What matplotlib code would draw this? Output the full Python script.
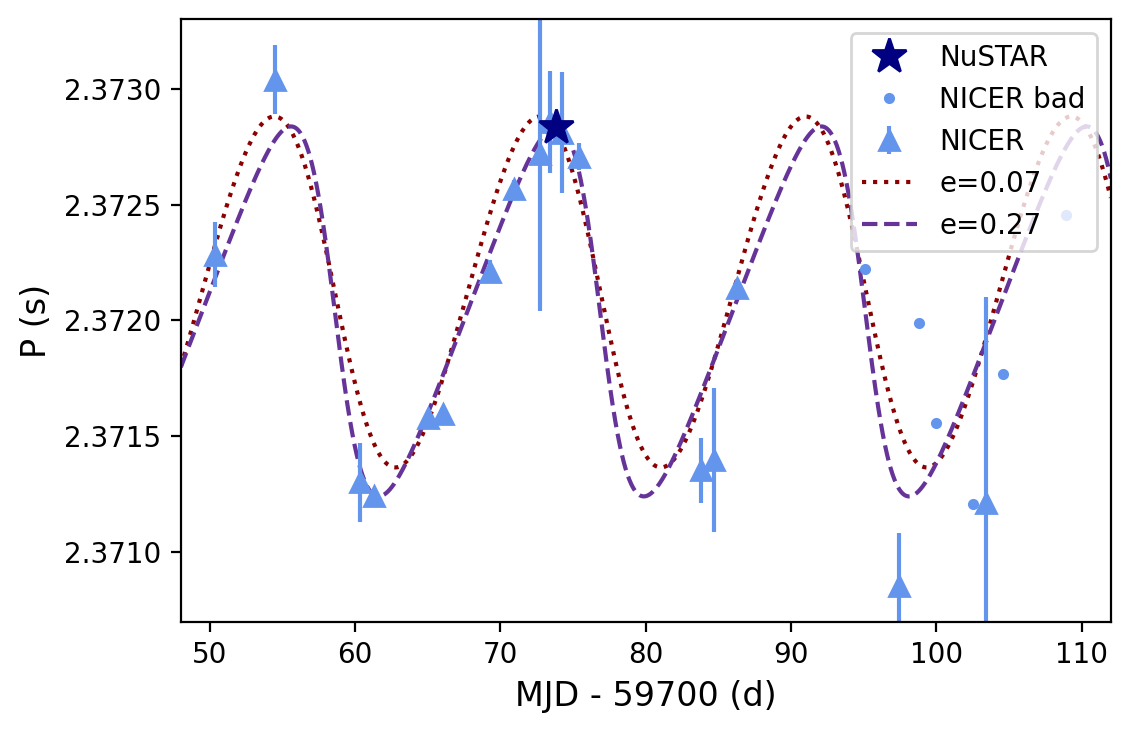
import numpy as np
import matplotlib
matplotlib.use('Agg')
import matplotlib.pyplot as plt

# NICER good points (MJD - 59700, period in s, error)
nicer_t = [50.34, 54.5, 60.3, 61.3, 65.0, 66.07, 69.3, 70.9, 72.7, 73.4, 74.2, 75.4,
           83.8, 84.7, 86.3, 97.45, 103.4]
nicer_p = [2.372284, 2.373039, 2.371302, 2.371241, 2.371578, 2.371595, 2.372211, 2.372565,
           2.372720, 2.372858, 2.372810, 2.372707, 2.371353, 2.371397, 2.372138, 2.370853, 2.371211]
nicer_err = [0.00014, 0.00015, 0.00017, 0.00002, 0.00003, 0.00003, 0.00005, 0.00004,
             0.00068, 0.00022, 0.00026, 0.00006, 0.00014, 0.00031, 0.00004, 0.00023, 0.00089]

# NICER bad points
bad_t = [95.1, 98.83, 100.0, 102.5, 104.6, 108.9]
bad_p = [2.37222, 2.37199, 2.371556, 2.371207, 2.371767, 2.372457]

# NuSTAR
nustar_t = [73.8]
nustar_p = [2.372836]

# orbit models: (label, P0, amplitude, e, omega in deg, T_peri, P_orb)
models = [
    ('e=0.07', 2.372123, 0.000757, 0.07, 90.0, 58.6, 18.28),
    ('e=0.27', 2.372039, 0.000798, 0.27, 90.0, 58.6, 18.25),
]
model_styles = [dict(color='darkred', ls=':'), dict(color='rebeccapurple', ls='--')]


def orbit_period(t, p0, amp, e, omega, tp, porb):
    M = 2 * np.pi * (t - tp) / porb
    E = M.copy()
    for _ in range(50):
        E = E - (E - e * np.sin(E) - M) / (1 - e * np.cos(E))
    nu = 2 * np.arctan2(np.sqrt(1 + e) * np.sin(E / 2), np.sqrt(1 - e) * np.cos(E / 2))
    w = np.radians(omega)
    return p0 + amp * (np.cos(nu + w) + e * np.cos(w))


fig, ax = plt.subplots(figsize=(5.65, 3.675), dpi=200)
fig.subplots_adjust(left=0.160, right=0.983, top=0.974, bottom=0.154)

tt = np.linspace(48, 112, 2000)
curve_handles = []
for m, st in zip(models, model_styles):
    h, = ax.plot(tt, orbit_period(tt, *m[1:]), lw=1.5, label=m[0], **st)
    curve_handles.append(h)

h_nicer = ax.errorbar(nicer_t, nicer_p, yerr=nicer_err, fmt='^', color='cornflowerblue',
                      markersize=7, label='NICER')
h_bad, = ax.plot(bad_t, bad_p, '.', color='cornflowerblue', markersize=6, label='NICER bad')
h_nu, = ax.plot(nustar_t, nustar_p, '*', color='navy', markersize=13, label='NuSTAR', zorder=5)

ax.set_xlim(48, 112)
ax.set_ylim(2.3707, 2.3733)
ax.set_xlabel('MJD - 59700 (d)', fontsize=12)
ax.set_ylabel('P (s)', fontsize=12)
ax.legend(handles=[h_nu, h_bad, h_nicer] + curve_handles, loc='upper right')

plt.savefig('out.png', dpi=200)
